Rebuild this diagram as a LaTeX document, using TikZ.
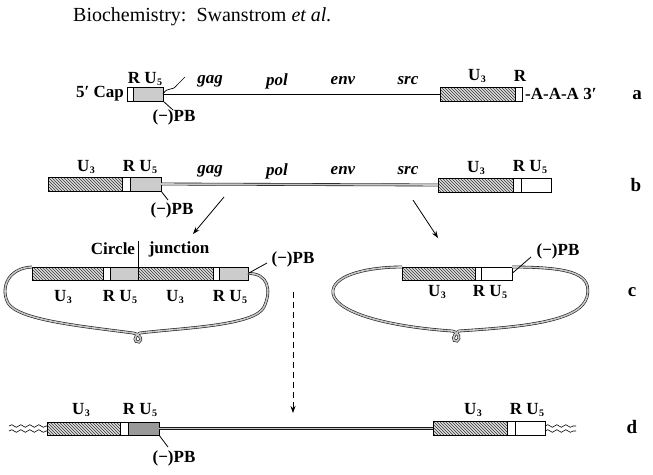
\documentclass[tikz,border=0pt]{standalone}
\usepackage{fontspec}
\setmainfont{Liberation Serif}
\usetikzlibrary{patterns,arrows.meta,decorations.pathmorphing}
\newcommand{\Usub}[1]{U\kern0.5pt\raisebox{-0.35ex}{\fontsize{10}{10}\selectfont #1}}
\tikzset{
  seg/.style={draw, line width=0.8pt, inner sep=0pt, outer sep=0pt, anchor=west, minimum height=14pt},
  hatch/.style={seg, preaction={fill=gray!25}, pattern=north west lines, pattern color=black!80},
  wseg/.style={seg, fill=white},
  stip/.style={seg, fill=gray!40},
  dstip/.style={seg, fill=gray!80},
  lab/.style={font=\fontsize{17}{17}\selectfont\bfseries, inner sep=0pt},
  gene/.style={font=\fontsize{17}{17}\selectfont\bfseries\itshape, inner sep=0pt},
  rowlab/.style={font=\fontsize{19}{19}\selectfont\bfseries, inner sep=0pt},
  thinline/.style={line width=0.7pt},
  dbl/.style={draw=black!90, line width=0.6pt, double=gray!45, double distance=1.6pt},
  ptr/.style={line width=0.8pt},
  arr/.style={line width=0.8pt, -{Stealth[length=7pt,width=5pt]}},
  wave/.style={line width=0.6pt, decorate, decoration={snake, amplitude=1.3pt, segment length=9pt}}
}
\begin{document}
\begin{tikzpicture}[x=1pt,y=-1pt]
\useasboundingbox (0,0) rectangle (653,474);

% title
\node[anchor=base west, inner sep=0pt, font=\fontsize{20}{20}\selectfont] (title) at (73,21) {Biochemistry:\ \ Swanstrom \textit{et al.}};

% ---------------- row a ----------------
\node[wseg, minimum width=6pt] (aR) at (127,94) {};
\node[stip, minimum width=30pt] (aU5) at (aR.east) {};
\node[hatch, minimum width=75pt] (aU3) at (440,94) {};
\node[wseg, minimum width=7pt] (aRr) at (aU3.east) {};
\draw[thinline] (aU5.east) -- (aU3.west);
\node[lab, anchor=east] (acap) at (124,94) {5′ Cap};
\node[lab, anchor=west] (apoly) at (525,94) {-A-A-A 3′};
\node[lab] (aRU5) at (145,79) {R \Usub{5}};
\node[lab] (aU3l) at (477,76) {\Usub{3}};
\node[lab] (aRl) at (520,76) {R};
\node[gene] (agag) at (210,81) {gag};
\node[gene] (apol) at (277,81) {pol};
\node[gene] (aenv) at (343,81) {env};
\node[gene] (asrc) at (408,81) {src};
\node[lab] (aPB) at (174,117) {(−)PB};
\coordinate (atail) at (185,77);
\draw[thinline] (aU5.east) .. controls (168,86) and (172,92) .. (177,85) -- (atail);
\coordinate (aptr) at (173,110);
\draw[ptr] (aU5.south east) -- (aptr);
\node[rowlab] (la) at (637,95) {a};

% ---------------- row b ----------------
\node[hatch, minimum width=74pt] (bU3) at (48,184) {};
\node[wseg, minimum width=8pt] (bR) at (bU3.east) {};
\node[stip, minimum width=31pt] (bU5) at (bR.east) {};
\node[hatch, minimum width=75pt] (bU3r) at (438,185) {};
\node[wseg, minimum width=8pt] (bRr) at (bU3r.east) {};
\node[wseg, minimum width=30pt] (bU5r) at (bRr.east) {};
\draw[dbl] (bU5.east) -- (bU3r.west);
\node[lab] (bU3l) at (86,167) {\Usub{3}};
\node[lab] (bRU5) at (140,167) {R \Usub{5}};
\node[gene] (bgag) at (210,171) {gag};
\node[gene] (bpol) at (277,171) {pol};
\node[gene] (benv) at (343,171) {env};
\node[gene] (bsrc) at (408,171) {src};
\node[lab] (bU3rl) at (476,168) {\Usub{3}};
\node[lab] (bRU5r) at (530,167) {R \Usub{5}};
\node[lab] (bPB) at (172,210) {(−)PB};
\coordinate (bptr) at (168,200);
\draw[ptr] (bU5.south east) -- (bptr);
\node[rowlab] (lb) at (636,185) {b};

% arrows b -> c
\coordinate (arl1) at (224,197);
\coordinate (arl2) at (193,234);
\draw[arr] (arl1) -- (arl2);
\coordinate (arr1) at (413,200);
\coordinate (arr2) at (438,238);
\draw[arr] (arr1) -- (arr2);

% ---------------- row c left ----------------
\node[hatch, minimum width=71pt, minimum height=13pt] (c1) at (32,273.5) {};
\node[wseg, minimum width=7pt, minimum height=13pt] (c2) at (c1.east) {};
\node[stip, minimum width=28pt, minimum height=13pt] (c3) at (c2.east) {};
\node[hatch, minimum width=75pt, minimum height=13pt] (c4) at (c3.east) {};
\node[wseg, minimum width=6pt, minimum height=13pt] (c5) at (c4.east) {};
\node[stip, minimum width=29pt, minimum height=13pt] (c6) at (c5.east) {};
\draw[dbl] (c1.north west) .. controls (8,268) and (0,288) .. (8,303)
   .. controls (18,320) and (80,326) .. (133,333)
   .. controls (140,334) and (143,340) .. (139,342)
   .. controls (134,343) and (133,336) .. (140,333)
   .. controls (180,328) and (255,326) .. (264,307)
   .. controls (272,290) and (268,273) .. (c6.east);
\node[lab] (cjl) at (113,249) {Circle};
\node[lab] (cjr) at (179,249) {junction};
\coordinate (cjtop) at (138,241);
\draw[thinline] (cjtop) -- (c3.south east);
\node[lab] (cU3a) at (63,297) {\Usub{3}};
\node[lab] (cRU5a) at (120,297) {R \Usub{5}};
\node[lab] (cU3b) at (175,297) {\Usub{3}};
\node[lab] (cRU5b) at (230,297) {R \Usub{5}};
\node[lab] (cPB) at (293,259) {(−)PB};
\coordinate (cptr) at (267,263);
\draw[ptr] (c6.east) -- (cptr);

% ---------------- row c right ----------------
\node[hatch, minimum width=73pt, minimum height=13pt] (r1) at (402,273.5) {};
\node[wseg, minimum width=6pt, minimum height=13pt] (r2) at (r1.east) {};
\node[wseg, minimum width=31pt, minimum height=13pt] (r3) at (r2.east) {};
\draw[dbl] (r1.north west) .. controls (370,267) and (336,274) .. (333,290)
   .. controls (330,310) and (380,326) .. (452,331)
   .. controls (459,332) and (461,339) .. (457,341)
   .. controls (452,342) and (452,335) .. (459,331)
   .. controls (520,327) and (580,322) .. (587,297)
   .. controls (592,275) and (575,267) .. (r3.north east);
\node[lab] (rU3) at (437,292) {\Usub{3}};
\node[lab] (rRU5) at (490,292) {R \Usub{5}};
\node[lab] (rPB) at (558,251) {(−)PB};
\coordinate (rptr) at (531,257);
\draw[ptr] (r3.east) -- (rptr);
\node[rowlab] (lc) at (632,292) {c};

% dashed arrow
\coordinate (dtop) at (293,292);
\coordinate (dbot) at (293,413);
\draw[arr, dash pattern=on 6pt off 4pt] (dtop) -- (dbot);

% ---------------- row d ----------------
\node[hatch, minimum width=73pt, minimum height=13pt] (dU3) at (47,428.5) {};
\node[wseg, minimum width=8pt, minimum height=13pt] (dR) at (dU3.east) {};
\node[dstip, minimum width=31pt, minimum height=13pt] (dU5) at (dR.east) {};
\node[hatch, minimum width=74pt, minimum height=14pt] (dU3r) at (433,428.5) {};
\node[wseg, minimum width=8pt, minimum height=14pt] (dRr) at (dU3r.east) {};
\node[wseg, minimum width=30pt, minimum height=14pt] (dU5r) at (dRr.east) {};
\draw[dbl] (dU5.east) -- (dU3r.west);
\coordinate (dw1) at (9,426);
\coordinate (dw2) at (9,431);
\coordinate (dw3) at (576,426);
\coordinate (dw4) at (576,431);
\draw[wave] (dw1) -- (dU3.west |- dw1);
\draw[wave] (dw2) -- (dU3.west |- dw2);
\draw[wave] (dU5r.east |- dw3) -- (dw3);
\draw[wave] (dU5r.east |- dw4) -- (dw4);
\node[lab] (dU3l) at (81,410) {\Usub{3}};
\node[lab] (dRU5) at (140,410) {R \Usub{5}};
\node[lab] (dU3rl) at (473,410) {\Usub{3}};
\node[lab] (dRU5r) at (527,410) {R \Usub{5}};
\node[lab] (dPB) at (174,458) {(−)PB};
\coordinate (dptr) at (168,447);
\draw[ptr] (dU5.south east) -- (dptr);
\node[rowlab] (ld) at (632,427) {d};
\end{tikzpicture}
\end{document}
